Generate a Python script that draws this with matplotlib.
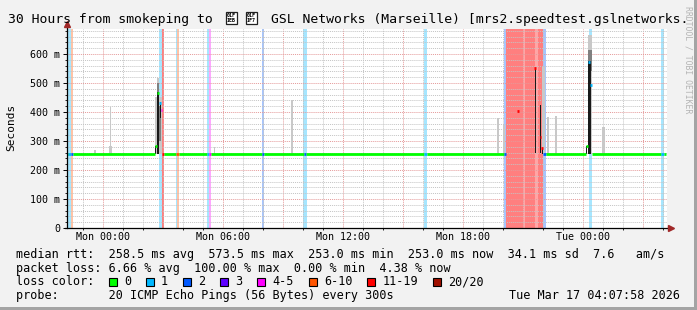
import matplotlib
matplotlib.use('Agg')
import matplotlib.pyplot as plt
from matplotlib.patches import Rectangle
from matplotlib.ticker import MultipleLocator, FixedLocator, FixedFormatter

# cores de perda do smokeping
loss_labels = ['0', '1', '2', '3', '4-5', '6-10', '11-19', '20/20']
loss_colors = ['#00ff00', '#00b8ff', '#0059ff', '#5e00ff', '#ff00ff', '#ff5500', '#ff0000', '#a01000']

# eixo x em horas a partir de Mon 00:00
x_ini = -1.8
x_fim = 28.2
xgrid_major = [0, 3, 6, 9, 12, 15, 18, 21, 24, 27]
xgrid_labels = ['Mon 00:00', '', 'Mon 06:00', '', 'Mon 12:00', '', 'Mon 18:00', '', 'Tue 00:00', '']

# eixo y em segundos
y_max = 0.686
ytick_pos = [0, 0.1, 0.2, 0.3, 0.4, 0.5, 0.6]
ytick_labels = ['0', '100 m', '200 m', '300 m', '400 m', '500 m', '600 m']

# faixas de perda (inicio, fim, nivel)
band_ini = [-1.75, -1.60, 2.80, 2.93, 3.65, 3.72, 5.20, 5.30, 7.95, 10.00, 16.05, 20.05, 20.15, 22.00, 24.28, 27.90]
band_fim = [-1.60, -1.50, 2.93, 3.05, 3.72, 3.80, 5.30, 5.40, 8.05, 10.20, 16.20, 20.15, 22.00, 22.15, 24.46, 28.05]
band_lvl = [1, 5, 1, 6, 1, 5, 1, 4, 2, 1, 1, 2, 6, 2, 1, 1]

# faixas mais claras dentro da regiao vermelha
stripe_ini = [21.00, 21.60]
stripe_fim = [21.10, 21.75]

# fumaca (pings)
cl = '#c8c8c8'
cm = '#808080'
cd = '#1a1a1a'
smoke_ini = [-0.45, 0.30, 0.35, 2.60, 2.70, 5.55, 9.40, 9.42, 19.70, 20.00, 21.95, 22.20, 22.62, 24.25, 24.93,
             2.70, 2.80, 24.25,
             2.60, 2.72, 2.86, 21.60, 21.85, 21.95, 24.15, 24.27]
smoke_fim = [-0.35, 0.45, 0.40, 2.95, 2.80, 5.62, 9.50, 9.48, 19.78, 20.08, 22.10, 22.30, 22.68, 24.45, 25.10,
             2.80, 2.92, 24.45,
             2.66, 2.80, 2.92, 21.65, 21.90, 22.00, 24.20, 24.40]
smoke_lo = [0.254, 0.254, 0.254, 0.254, 0.254, 0.254, 0.254, 0.254, 0.254, 0.254, 0.254, 0.254, 0.254, 0.254, 0.254,
            0.440, 0.300, 0.540,
            0.254, 0.254, 0.380, 0.258, 0.258, 0.254, 0.254, 0.254]
smoke_hi = [0.269, 0.281, 0.417, 0.450, 0.517, 0.279, 0.281, 0.441, 0.379, 0.355, 0.556, 0.383, 0.385, 0.665, 0.349,
            0.500, 0.420, 0.615,
            0.282, 0.470, 0.435, 0.553, 0.424, 0.276, 0.283, 0.575]
smoke_cor = [cl] * 15 + [cm] * 3 + [cd] * 8

# mediana (inicio, fim, valor, nivel de perda)
med_ini = [-1.80, -1.75, -1.60, -1.50, 2.60, 2.70, 2.80, 2.88, 2.95, 3.05, 3.65, 3.80, 5.20, 5.30, 5.40, 7.95, 8.05,
           10.05, 10.15, 16.05, 16.20, 20.05, 20.70, 21.55, 21.85, 21.92, 22.00, 22.15, 24.15, 24.25, 24.35, 24.45,
           27.90, 28.05]
med_fim = [-1.75, -1.60, -1.50, 2.60, 2.70, 2.80, 2.88, 2.95, 3.05, 3.65, 3.80, 5.20, 5.30, 5.40, 7.95, 8.05, 10.05,
           10.15, 16.05, 16.20, 20.05, 20.15, 20.80, 21.65, 21.92, 22.00, 22.15, 24.15, 24.25, 24.35, 24.45, 27.90,
           28.05, 28.15]
med_val = [0.254, 0.254, 0.254, 0.254, 0.282, 0.465, 0.431, 0.407, 0.254, 0.254, 0.254, 0.254, 0.254, 0.254, 0.254,
           0.254, 0.254, 0.254, 0.254, 0.254, 0.254, 0.254, 0.404, 0.553, 0.315, 0.275, 0.254, 0.254, 0.283, 0.572,
           0.493, 0.254, 0.254, 0.254]
med_lvl = [0, 1, 2, 0, 0, 0, 1, 4, 6, 0, 5, 0, 1, 4, 0, 2, 0, 2, 0, 1, 0, 2, 6, 6, 6, 6, 2, 0, 0, 1, 1, 0, 1, 0]

# textos
titulo1 = '30 Hours from smokeping to'
# a bandeira aparece como caixas com o codigo hexadecimal (sem glifo)
titulo_flag = ['01F\n1EB', '01F\n1F7']
titulo2 = 'GSL Networks (Marseille) [mrs2.speedtest.gslnetworks.'
linha_rtt = 'median rtt:  258.5 ms avg  573.5 ms max  253.0 ms min  253.0 ms now  34.1 ms sd  7.6   am/s'
linha_loss = 'packet loss: 6.66 % avg  100.00 % max  0.00 % min  4.38 % now'
linha_probe = 'probe:       20 ICMP Echo Pings (56 Bytes) every 300s'
data_hora = 'Tue Mar 17 04:07:58 2026'

# tamanho da imagem em pixels
W = 697
H = 310
mono = 'DejaVu Sans Mono'

fig = plt.figure(figsize=(W / 100, H / 100), dpi=100, facecolor='#f2f2f2')

# converte pixel para coordenada da figura
def px(x, y):
    return x / W, 1 - y / H

ax = fig.add_axes([67 / W, (H - 228) / H, 600 / W, 199 / H])
ax.set_facecolor('white')
ax.set_xlim(x_ini, x_fim)
ax.set_ylim(0, y_max)
for s in ax.spines.values():
    s.set_visible(False)

# grade
ax.xaxis.set_major_locator(FixedLocator(xgrid_major))
ax.xaxis.set_major_formatter(FixedFormatter(xgrid_labels))
ax.xaxis.set_minor_locator(MultipleLocator(1))
ax.yaxis.set_major_locator(FixedLocator(ytick_pos))
ax.yaxis.set_major_formatter(FixedFormatter(ytick_labels))
ax.yaxis.set_minor_locator(MultipleLocator(0.02))
ax.set_axisbelow('line')
ax.grid(which='minor', color='#c4c4c4', linestyle=(0, (1, 1)), linewidth=0.7)
ax.grid(which='major', color='#e59a9a', linestyle=(0, (1, 1)), linewidth=0.7)
ax.tick_params(which='major', length=3, width=0.7, direction='out', labelsize=7.2, pad=2)
ax.tick_params(which='minor', length=1.5, width=0.6, direction='out')
ax.tick_params(axis='x', which='major', length=0, pad=3)
for t in ax.get_xticklabels() + ax.get_yticklabels():
    t.set_fontfamily(mono)

# faixas de perda
for a, b, l in zip(band_ini, band_fim, band_lvl):
    alfa = 0.5 if l >= 6 else 0.35
    ax.axvspan(a, b, color=loss_colors[l], alpha=alfa, lw=0, zorder=1)
for a, b in zip(stripe_ini, stripe_fim):
    ax.axvspan(a, b, color='white', alpha=0.3, lw=0, zorder=1.1)

# fumaca
alturas = [h - l for h, l in zip(smoke_hi, smoke_lo)]
larguras = [f - i for f, i in zip(smoke_fim, smoke_ini)]
ax.bar(smoke_ini, alturas, width=larguras, bottom=smoke_lo, align='edge', color=smoke_cor, lw=0, zorder=2)

# mediana colorida pela perda
ax.hlines(med_val, med_ini, med_fim, colors=[loss_colors[l] for l in med_lvl], lw=2, zorder=4)

# eixos com setas
ax.plot([x_ini, x_ini], [0, 0.700], color='black', lw=0.9, clip_on=False, zorder=5)
ax.plot([x_ini - 0.1, 28.3], [0, 0], color='black', lw=0.9, clip_on=False, zorder=5)
ax.plot([x_ini], [0.702], marker='^', ms=4.5, color='#a02828', clip_on=False, zorder=6)
ax.plot([28.42], [0], marker='>', ms=4.5, color='#a02828', clip_on=False, zorder=6)

# titulo
fig.text(*px(8, 23), titulo1, family=mono, fontsize=9.45, va='baseline', ha='left')
for i, hexa in enumerate(titulo_flag):
    x0 = 226 + i * 20
    fig.add_artist(Rectangle(px(x0, 24), 11 / W, 12 / H, transform=fig.transFigure,
                             facecolor='white', edgecolor='#202020', lw=0.9))
    fig.text(*px(x0 + 5.5, 18), hexa, family=mono, fontsize=3.6, fontweight='bold',
             va='center', ha='center', linespacing=0.95)
fig.text(*px(271, 23), titulo2, family=mono, fontsize=9.45, va='baseline', ha='left')

# rotulo do eixo y
fig.text(*px(11, 127), 'Seconds', family=mono, fontsize=8, rotation=90, va='center', ha='center')

# marca d'agua do rrdtool
fig.text(*px(688, 6), 'RRDTOOL / TOBI OETIKER', family=mono, fontsize=5.9, rotation=270,
         color='#b4b4b4', va='top', ha='center')

# legenda
fs = 8.5
fig.text(*px(16, 258.3), linha_rtt, family=mono, fontsize=fs, va='baseline')
fig.text(*px(16, 271.8), linha_loss, family=mono, fontsize=fs, va='baseline')
fig.text(*px(16, 285.3), 'loss color:', family=mono, fontsize=fs, va='baseline')
fig.text(*px(16, 298.8), linha_probe, family=mono, fontsize=fs, va='baseline')
fig.text(*px(680, 298.8), data_hora, family=mono, fontsize=fs, va='baseline', ha='right')

# caixas de cor da perda
cw = 7.115
x = 109
for lab, cor in zip(loss_labels, loss_colors):
    fig.add_artist(Rectangle(px(x, 286), 8 / W, 8 / H, transform=fig.transFigure,
                             facecolor=cor, edgecolor='black', lw=0.8))
    fig.text(*px(x + 15, 285.3), lab, family=mono, fontsize=fs, va='baseline')
    x = x + 15 + len(lab) * cw + 15

# moldura
fig.add_artist(Rectangle(px(694, H), 3 / W, 1, transform=fig.transFigure, facecolor='#a4a4a4', lw=0))
fig.add_artist(Rectangle(px(0, H), 1, 3 / H, transform=fig.transFigure, facecolor='#a4a4a4', lw=0))

plt.savefig('out.png', dpi=100, facecolor=fig.get_facecolor())
